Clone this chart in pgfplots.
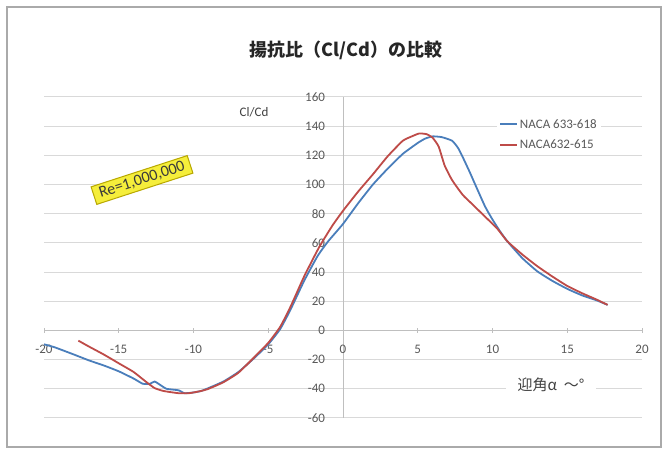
\documentclass[border=0pt]{standalone}
\usepackage{pgfplots}
\pgfplotsset{compat=1.18}
\usepackage{fontspec}
\setmainfont{Carlito}
\newfontfamily\cjk{Noto Sans CJK JP}
\definecolor{blueS}{HTML}{4A7EBB}
\definecolor{redS}{HTML}{BE4B48}
\definecolor{tickgray}{HTML}{595959}
\definecolor{gridgray}{HTML}{D9D9D9}
\definecolor{axgray}{HTML}{BFBFBF}
\definecolor{reyellow}{HTML}{F5EE3B}
\definecolor{reborder}{HTML}{B8A800}
\definecolor{framegray}{HTML}{AAAAAA}
\begin{document}
\begin{tikzpicture}[x=1pt,y=1pt]
\fill[white] (0,0) rectangle (668,449);
\begin{axis}[
  at={(44pt,31pt)}, anchor=south west,
  width=598pt, height=321pt, scale only axis,
  xmin=-20, xmax=20, ymin=-60, ymax=160,
  axis lines=middle,
  axis line style={axgray, line width=0.8pt, -},
  xtick={-20,-15,...,20}, ytick={-60,-40,...,160},
  hide obscured x ticks=false, hide obscured y ticks=false,
  ymajorgrids, grid style={gridgray, line width=1pt},
  major tick length=5pt, tick align=center,
  xtick style={axgray, line width=0.8pt},
  ytick style={draw=none},
  /pgf/number format/assume math mode=true,
  tick label style={font=\fontsize{13}{15}\selectfont, text=tickgray},
  xticklabel style={yshift=-9pt},
  yticklabel style={anchor=east, xshift=-12pt},
  legend style={at={(0.7575,0.944)}, anchor=north west, draw=none, fill=white,
    font=\fontsize{13}{15}\selectfont, text=tickgray, row sep=6pt, inner sep=2pt},
  legend cell align=left,
  legend image code/.code={\draw[#1] (0pt,0pt) -- (17pt,0pt);},
]
\addplot[blueS, line width=1.8pt, smooth, tension=0.3] coordinates {
(-20,-9.5) (-19.3,-11.5) (-18,-16.5) (-17,-20.5) (-16,-24) (-15,-28) (-14,-33)
(-13.4,-36.5) (-12.9,-36.5) (-12.6,-35) (-12.2,-37.5) (-11.8,-40) (-11,-41)
(-10.6,-43) (-10,-42.5) (-9.5,-41.5) (-9,-39.5) (-8,-35) (-7,-28.5) (-6,-19.5)
(-5,-9.5) (-4.2,1) (-3.5,14.5) (-2.6,34) (-1.7,51) (-1,61) (0,73) (1,87)
(2,100) (3,111) (4,121) (5,128.5) (5.5,131.5) (6,133) (6.6,132.5) (7.3,130)
(7.7,125) (8,119) (8.5,108) (8.8,101) (9.5,85) (10,76) (10.5,68) (11,61)
(12,49.5) (13,40.5) (14,34) (15,28.5) (16,24) (17,20.5) (17.7,17.5)
};
\addlegendentry{NACA 633-618}
\addplot[redS, line width=1.8pt, smooth, tension=0.3] coordinates {
(-17.7,-7) (-17,-11) (-16,-16.5) (-15,-22.5) (-14,-28.5) (-13.2,-35) (-12.6,-39.5)
(-12,-41.5) (-11,-43) (-10.3,-43) (-9.5,-41.5) (-9,-40) (-8,-35.5) (-7,-29)
(-6,-19) (-5,-8.5) (-4.2,2.5) (-3.5,16.5) (-2.6,37) (-1.6,57) (-0.7,72) (0,82)
(1,95) (2,107) (3,119.5) (4,130) (4.6,133) (5.1,135) (5.6,134.5) (6,132)
(6.4,126) (6.8,113) (7.3,103) (8,93) (8.6,87) (9.5,78) (10.3,70) (11,61)
(12,52) (13,44) (14,37) (15,30.5) (16,25.5) (17,21) (17.7,17.5)
};
\addlegendentry{NACA632-615}
\end{axis}
\node[font=\cjk\bfseries\fontsize{18}{20}\selectfont, text={rgb,255:red,38;green,38;blue,38}] at (346,399) {揚抗比（Cl/Cd）の比較};
\node[font=\fontsize{13}{15}\selectfont, text={rgb,255:red,64;green,64;blue,64}] at (254,337) {Cl/Cd};
\node[fill=white, inner xsep=12pt, inner ysep=3pt, font=\cjk\fontsize{15}{17}\selectfont, text={rgb,255:red,64;green,64;blue,64}] at (551,64) {迎角α\ \ ～°};
\node[rotate=18, fill=reyellow, draw=reborder, line width=1pt, inner xsep=6pt, inner ysep=3pt, font=\fontsize{16}{18}\selectfont, text={rgb,255:red,58;green,58;blue,58}] at (142,269) {Re=1,000,000};
\draw[framegray, line width=2pt] (7,2) rectangle (661,442);
\pgfresetboundingbox
\path[use as bounding box] (0,0) rectangle (668,449);
\end{tikzpicture}
\end{document}
